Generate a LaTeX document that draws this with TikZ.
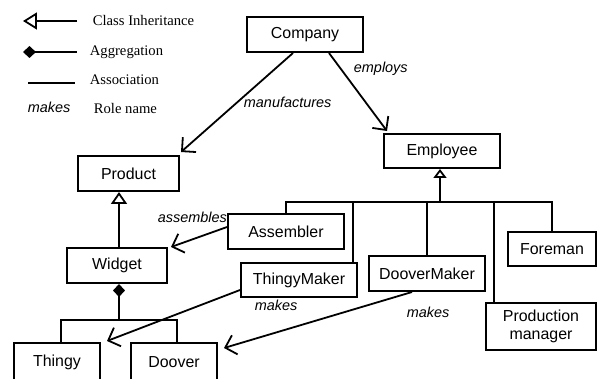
\documentclass[tikz,border=0pt]{standalone}
\usepackage{fontspec}
\setmainfont{Liberation Serif}
\newfontfamily\arialf{Liberation Sans}
\usetikzlibrary{arrows.meta}
\begin{document}
\begin{tikzpicture}[x=1bp,y=-1bp, line width=1.8bp,
 cls/.style={draw, line width=2bp, inner sep=0pt, font=\arialf\fontsize{16}{18}\selectfont, align=center},
 role/.style={font=\arialf\itshape\fontsize{14.5}{16}\selectfont, inner sep=0pt, anchor=base west},
 leg/.style={font=\fontsize{14.7}{16}\selectfont, inner sep=0pt, anchor=base west},
 assoc/.style={-{Straight Barb[length=10pt,width=20pt]}},
 inh/.style={-{Triangle[open,length=12pt,width=16pt]}},
 inhsmall/.style={-{Triangle[open,length=9pt,width=13pt]}},
 inhlegend/.style={-{Triangle[open,length=14pt,width=17pt]}},
 agg/.style={{Diamond[length=13pt,width=12pt]}-}
]
\useasboundingbox (0,0) rectangle (597,378);

% legend
\node[leg] (l1) at (92,25) {Class Inheritance};
\node[leg] (l2) at (89,55) {Aggregation};
\node[leg] (l3) at (89,84) {Association};
\node[leg] (l4) at (93,113) {Role name};
\node[role] (l5) at (27,112) {makes};
\coordinate (l1a) at (77,21); \coordinate (l1b) at (23,21);
\coordinate (l2a) at (23,52); \coordinate (l2b) at (77,52);
\coordinate (l3a) at (28,83); \coordinate (l3b) at (75,83);
\draw[inhlegend] (l1a) -- (l1b);
\draw[agg] (l2a) -- (l2b);
\draw (l3a) -- (l3b);

% classes
\node[cls, minimum width=116bp, minimum height=35bp] (company) at (305,34.5) {Company};
\node[cls, minimum width=101bp, minimum height=35bp] (product) at (128.5,173.5) {Product};
\node[cls, minimum width=116bp, minimum height=34bp] (employee) at (442,151) {Employee};
\node[cls, minimum width=100bp, minimum height=35bp] (widget) at (117,265.5) {Widget};
\node[cls, minimum width=116bp, minimum height=35bp] (assembler) at (286,231.5) {Assembler};
\node[cls, minimum width=116bp, minimum height=34bp] (thingymaker) at (299,280) {ThingyMaker};
\node[cls, minimum width=116bp, minimum height=35bp] (doovermaker) at (427,273.5) {DooverMaker};
\node[cls, minimum width=88bp, minimum height=34bp] (foreman) at (552,249) {Foreman};
\node[cls, minimum width=110bp, minimum height=47bp] (pm) at (541,326.5) {Production\\manager};
\node[cls, minimum width=86bp, minimum height=38bp] (thingy) at (57,362) {Thingy};
\node[cls, minimum width=86bp, minimum height=38bp] (doover) at (174,362) {Doover};

% employee hierarchy
\coordinate (ebus) at (440,202);
\draw[inhsmall] (ebus) -- (employee.south -| ebus);
\draw (assembler.north) |- (ebus);
\draw ([shift={(-5,0)}]thingymaker.north east) |- (ebus);
\draw (doovermaker.north) |- (ebus);
\draw ([shift={(9,0)}]pm.north west) |- (ebus);
\draw (foreman.north) |- (ebus);

% product hierarchy
\draw[inh] ([shift={(2,0)}]widget.north) -- ([shift={(2,0)}]widget.north |- product.south);

% aggregation
\coordinate (wbus) at (119,320);
\draw[agg] ([shift={(2,0)}]widget.south) -- (wbus);
\draw ([shift={(4,0)}]thingy.north) |- (wbus);
\draw ([shift={(3,0)}]doover.north) |- (wbus);

% associations
\draw[assoc] ([shift={(-12,0)}]company.south) -- ([shift={(1,-3)}]product.north east);
\draw[assoc] ([shift={(24,0)}]company.south) -- ([shift={(4,-2)}]employee.north west);
\draw[assoc] ([shift={(0,-4.5)}]assembler.west) -- ([shift={(3,0)}]widget.north east);
\draw[assoc] ([shift={(0,10)}]thingymaker.west) -- ([shift={(6,-1)}]thingy.north east);
\draw[assoc] ([shift={(-15,0)}]doovermaker.south) -- ([shift={(6,6)}]doover.north east);

% role names
\node[role] (r1) at (243,107) {manufactures};
\node[role] (r2) at (353,72) {employs};
\node[role] (r3) at (157,222) {assembles};
\node[role] (r4) at (254,310) {makes};
\node[role] (r5) at (406,317) {makes};
\end{tikzpicture}
\end{document}
